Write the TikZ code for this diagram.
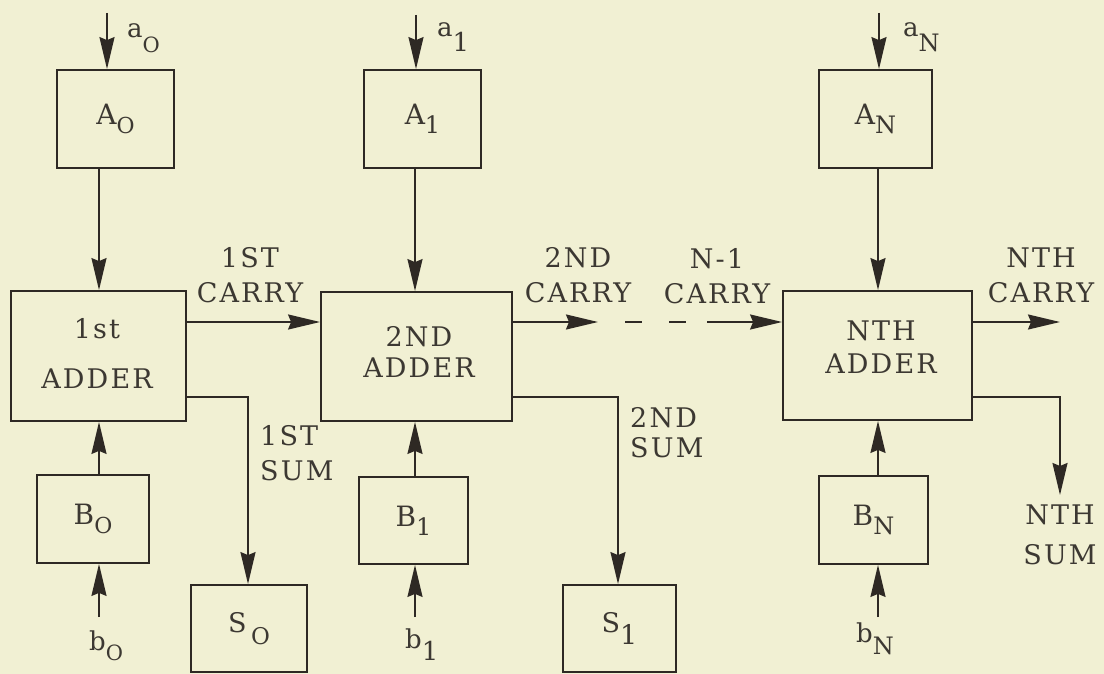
\documentclass[tikz,border=0pt]{standalone}
\usepackage{fontspec}
\setmainfont{DejaVu Serif}[LetterSpace=8]
\usetikzlibrary{arrows.meta}
\definecolor{bg}{HTML}{F1F0D3}
\definecolor{lc}{HTML}{2E2924}
\definecolor{tc}{HTML}{3C3832}
\newcommand\subx[2][13pt]{\raisebox{-#1}{#2}}
\newcommand\fs[2]{\fontsize{#1}{#2}\selectfont}
\begin{document}
\begin{tikzpicture}[x=1pt,y=-1pt,
  box/.style={draw=lc, line width=1.8pt, inner sep=0pt, text=tc},
  wire/.style={draw=lc, line width=1.8pt},
  arr/.style={wire, -{Stealth[length=32pt,width=15pt,inset=3pt]}},
  txt/.style={text=tc, inner sep=0pt}]
\fill[bg] (0,0) rectangle (1104,674);
\useasboundingbox (0,0) rectangle (1104,674);

% registers A
\node[box, minimum width=117pt, minimum height=98pt] (A0) at (115.5,119) {\fs{28}{30}A\subx[9pt]{\fs{22}{26}O}};
\node[box, minimum width=117pt, minimum height=98pt] (A1) at (422.5,119) {\fs{28}{30}A\subx[9pt]{\fs{24}{26}1}};
\node[box, minimum width=113pt, minimum height=98pt] (AN) at (875.5,119) {\fs{28}{30}A\subx[9pt]{\fs{24}{26}N}};
% adders
\node[box, minimum width=175pt, minimum height=130pt] (Add1) at (98.5,356) {};
\node[box, minimum width=191pt, minimum height=129pt] (Add2) at (416.5,356.5) {};
\node[box, minimum width=189pt, minimum height=129pt] (AddN) at (877.5,355.5) {};
\node[txt, align=center, font=\fs{27}{50}] (Add1t) at (97,353) {1st\\ADDER};
\node[txt, align=center, font=\fs{27}{31}] (Add2t) at (419,352) {2ND\\ADDER};
\node[txt, align=center, font=\fs{27}{33}] (AddNt) at (881,347) {NTH\\ADDER};
% registers B
\node[box, minimum width=112pt, minimum height=88pt] (B0) at (93,519) {\fs{28}{30}B\subx[9pt]{\fs{22}{26}O}};
\node[box, minimum width=109pt, minimum height=87pt] (B1) at (413.5,520.5) {\fs{28}{30}B\subx[9pt]{\fs{24}{26}1}};
\node[box, minimum width=109pt, minimum height=88pt] (BN) at (873.5,520) {\fs{28}{30}B\subx[9pt]{\fs{24}{26}N}};
% sum registers
\node[box, minimum width=116pt, minimum height=87pt] (S0) at (249,628.5) {\fs{27}{31}S\,\subx[12pt]{\fs{23}{26}O}};
\node[box, minimum width=113pt, minimum height=87pt] (S1) at (619.5,628.5) {\fs{27}{31}S\subx[12pt]{1}};

% input labels
\node[txt, anchor=base west] (la0) at (127,38) {\fs{26}{30}a\subx[15pt]{\fs{21}{24}O}};
\node[txt, anchor=base west] (la1) at (437,37) {\fs{26}{30}a\subx[15pt]{1}};
\node[txt, anchor=base west] (laN) at (903,37) {\fs{26}{30}a\subx[15pt]{\fs{24}{26}N}};
\node[txt, anchor=base west] (lb0) at (89,650) {\fs{26}{30}b\subx[10pt]{\fs{21}{24}O}};
\node[txt, anchor=base west] (lb1) at (405,648) {\fs{26}{30}b\subx[12pt]{1}};
\node[txt, anchor=base west] (lbN) at (856,642) {\fs{26}{30}b\subx[12pt]{\fs{24}{26}N}};

% carry / sum labels
\node[txt, align=center, font=\fs{27}{35}] (c1) at (250,275.5) {1ST\\CARRY};
\node[txt, align=center, font=\fs{27}{35}] (c2) at (578,275.5) {2ND\\CARRY};
\node[txt, align=center, font=\fs{27}{35}] (cN1) at (717,276) {N-1\\CARRY};
\node[txt, align=center, font=\fs{27}{35}] (cN) at (1041,275.5) {NTH\\CARRY};
\node[txt, align=left, anchor=west, font=\fs{27}{35}] (s1l) at (260,453.5) {1ST\\SUM};
\node[txt, align=left, anchor=west, font=\fs{27}{30}] (s2l) at (630,433) {2ND\\SUM};
\node[txt, align=center, font=\fs{27}{40}] (sNl) at (1060,535) {NTH\\SUM};

% column coordinates
\coordinate (x0) at (99,0);
\coordinate (x1) at (415,0);
\coordinate (xN) at (878,0);
\coordinate (ia0) at (107,13);
\coordinate (ia1) at (416,15);
\coordinate (iaN) at (879,13);
\coordinate (ib0) at (99,617);
\coordinate (ib1) at (415,617);
\coordinate (ibN) at (878,617);
\coordinate (cy) at (0,322);
\coordinate (sy) at (0,397);

% inputs
\draw[arr] (ia0) -- (A0.north -| ia0);
\draw[arr] (ia1) -- (A1.north -| ia1);
\draw[arr] (iaN) -- (AN.north -| iaN);
\draw[arr] (A0.south -| x0) -- (Add1.north -| x0);
\draw[arr] (A1.south -| x1) -- (Add2.north -| x1);
\draw[arr] (AN.south -| xN) -- (AddN.north -| xN);
\draw[arr] (B0.north -| x0) -- (Add1.south -| x0);
\draw[arr] (B1.north -| x1) -- (Add2.south -| x1);
\draw[arr] (BN.north -| xN) -- (AddN.south -| xN);
\draw[arr] (ib0) -- (B0.south -| ib0);
\draw[arr] (ib1) -- (B1.south -| ib1);
\draw[arr] (ibN) -- (BN.south -| ibN);

% carries
\coordinate (c2e) at (598,322);
\coordinate (d1) at (625,322);
\coordinate (d2) at (687,322);
\coordinate (dN) at (707,322);
\coordinate (cNe) at (1060,322);
\draw[arr] (Add1.east |- cy) -- (Add2.west |- cy);
\draw[arr] (Add2.east |- cy) -- (c2e);
\draw[wire, dash pattern=on 17pt off 27pt] (d1) -- (d2);
\draw[arr] (dN) -- (AddN.west |- cy);
\draw[arr] (AddN.east |- cy) -- (cNe);

% sums
\coordinate (s0x) at (248,0);
\coordinate (s1x) at (618,0);
\coordinate (sNe) at (1060,495);
\draw[arr] (Add1.east |- sy) -| (S0.north -| s0x);
\draw[arr] (Add2.east |- sy) -| (S1.north -| s1x);
\draw[arr] (AddN.east |- sy) -| (sNe);
\end{tikzpicture}
\end{document}
